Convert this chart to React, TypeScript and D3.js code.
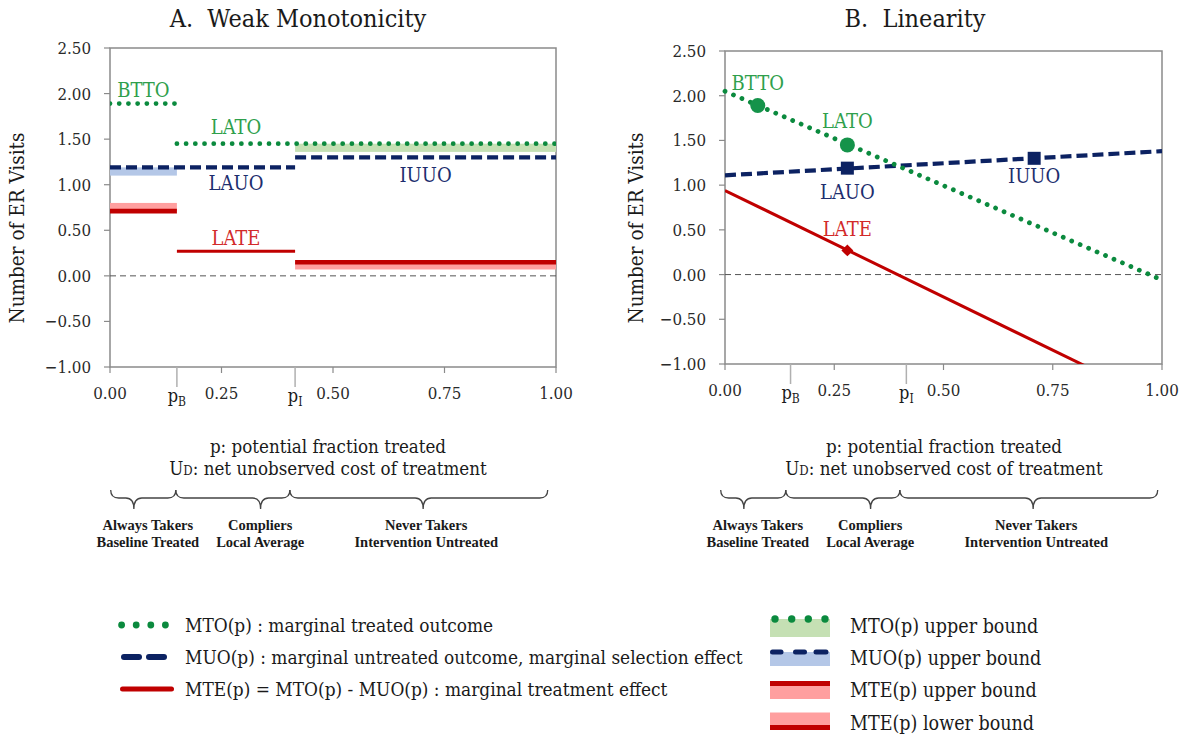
import React, { useEffect, useRef } from 'react';
import * as d3 from 'd3';

const FONT = "'DejaVu Serif Condensed', 'DejaVu Serif', serif";
const FONT_BOLD = "'Liberation Serif', serif";

// ---- data ----
const yTicks = [2.5, 2.0, 1.5, 1.0, 0.5, 0, -0.5, -1.0];
const xTicks = [0, 0.25, 0.5, 0.75, 1];
const pB = 0.15;
const pI = 0.415;
const cutoffs = [pB, pI];
const cutoffSub = ['B', 'I'];

// panel A: step functions (start, end, value)
const mtoAStart = [0, pB];
const mtoAEnd = [pB, 1];
const mtoAVal = [1.89, 1.45];
const muoAStart = [0, pI];
const muoAEnd = [pI, 1];
const muoAVal = [1.19, 1.3];
const mteAStart = [0, pB, pI];
const mteAEnd = [pB, pI, 1];
const mteAVal = [0.71, 0.27, 0.15];

// panel A: bounds (shaded)
const boundKind = ['mto', 'muo', 'mte', 'mte'];
const boundStart = [pI, 0, 0, pI];
const boundEnd = [1, pB, pB, 1];
const boundLow = [1.36, 1.1, 0.71, 0.07];
const boundHigh = [1.45, 1.19, 0.8, 0.15];

// panel B: linear functions
const lineP = [0, 1];
const mtoB = [2.05, -0.06];
const muoB = [1.11, 1.38];
const mteB = [0.94, -1.44];
const circleP = [0.075, 0.28];
const circleY = [1.89, 1.45];
const squareP = [0.28, 0.7075];
const squareY = [1.19, 1.3];
const diamondP = [0.28];
const diamondY = [0.27];

// annotation labels
const labelText = ['BTTO', 'LATO', 'LAUO', 'IUUO', 'LATE'];
const labelKind = ['mto', 'mto', 'muo', 'muo', 'mte'];
const labelP = [0.075, 0.2825, 0.2825, 0.7075, 0.2825];
const labelY = [1.89, 1.45, 1.19, 1.3, 0.27];

const groupTop = ['Always Takers', 'Compliers', 'Never Takers'];
const groupBottom = ['Baseline Treated', 'Local Average', 'Intervention Untreated'];

const legendLeft = [
  'MTO(p) : marginal treated outcome',
  'MUO(p) : marginal untreated outcome, marginal selection effect',
  'MTE(p) = MTO(p) - MUO(p) : marginal treatment effect',
];
const legendRight = ['MTO(p) upper bound', 'MUO(p) upper bound', 'MTE(p) upper bound', 'MTE(p) lower bound'];

// ---- styling ----
const C = {
  green: '#0b8a3e',
  greenText: '#2f9f4c',
  greenBand: '#c5e0b4',
  navy: '#0c2262',
  navyText: '#1d2e6e',
  blueBand: '#b4c7e7',
  red: '#c00000',
  redText: '#d22a2a',
  pink: '#ff9f9f',
  frame: '#8a8a8a',
};
const kindColor: any = { mto: C.green, muo: C.navy, mte: C.red };
const kindText: any = { mto: C.greenText, muo: C.navyText, mte: C.redText };
const bandColor: any = { mto: C.greenBand, muo: C.blueBand, mte: C.pink };

const panels = [
  { key: 'A', title: 'A.  Weak Monotonicity', titleX: 298, left: 110, right: 556, top: 48, bottom: 367, ylabX: 17,
    braceLeft: 110.7, captionX: 328, labelDy: [-14, -16.5, 16, 17.5, -13] },
  { key: 'B', title: 'B.  Linearity', titleX: 915, left: 725, right: 1162, top: 51, bottom: 364, ylabX: 636,
    braceLeft: 720.7, captionX: 944, labelDy: [-22.5, -24, 23.5, 17.5, -21] },
];
const braceW = 437;
const braceJoint = [0, 0.149, 0.41, 1];
const braceTip = [0.053, 0.343, 0.715];
const braceLabel = [0.085, 0.342, 0.722];

function bracePath(a: number, b: number, tip: number, y0: number, y1: number, y2: number) {
  const r = 8;
  return `M${a},${y0} Q${a},${y1} ${a + r},${y1} L${tip - r},${y1} Q${tip},${y1} ${tip},${y2} ` +
    `Q${tip},${y1} ${tip + r},${y1} L${b - r},${y1} Q${b},${y1} ${b},${y0}`;
}

function txt(g: any, size: number) {
  return g.append('text').attr('font-family', FONT).attr('font-size', size).attr('fill', '#1a1a1a');
}

function drawPanel(svg: any, pn: any) {
  const x = d3.scaleLinear().domain([0, 1]).range([pn.left, pn.right]);
  const y = d3.scaleLinear().domain([-1, 2.5]).range([pn.bottom, pn.top]);
  const g = svg.append('g');

  txt(g, 25).attr('x', pn.titleX).attr('y', 27).attr('text-anchor', 'middle')
    .attr('xml:space', 'preserve').style('white-space', 'pre').text(pn.title);

  const clipId = 'clip' + pn.key;
  g.append('clipPath').attr('id', clipId).append('rect')
    .attr('x', pn.left).attr('y', pn.top).attr('width', pn.right - pn.left).attr('height', pn.bottom - pn.top);

  // frame + ticks
  g.append('rect').attr('x', pn.left).attr('y', pn.top).attr('width', pn.right - pn.left)
    .attr('height', pn.bottom - pn.top).attr('fill', 'none').attr('stroke', C.frame).attr('stroke-width', 1.5);
  yTicks.forEach(t => {
    g.append('line').attr('x1', pn.left - 6).attr('x2', pn.left).attr('y1', y(t)).attr('y2', y(t))
      .attr('stroke', C.frame).attr('stroke-width', 1.2);
    txt(g, 16.8).attr('x', pn.left - 19).attr('y', y(t) + 6).attr('text-anchor', 'end')
      .attr('fill', '#2a2a2a').text(d3.format('.2f')(t));
  });
  xTicks.forEach(t => {
    g.append('line').attr('x1', x(t)).attr('x2', x(t)).attr('y1', pn.bottom).attr('y2', pn.bottom + 6)
      .attr('stroke', C.frame).attr('stroke-width', 1.2);
    txt(g, 16.8).attr('x', x(t)).attr('y', pn.bottom + 31.5).attr('text-anchor', 'middle')
      .attr('fill', '#2a2a2a').text(d3.format('.2f')(t));
  });
  cutoffs.forEach((c, i) => {
    g.append('line').attr('x1', x(c)).attr('x2', x(c)).attr('y1', pn.bottom).attr('y2', pn.bottom + 20)
      .attr('stroke', '#b0b0b0').attr('stroke-width', 1.5);
    const t = txt(g, 18).attr('x', x(c)).attr('y', pn.bottom + 35).attr('text-anchor', 'middle');
    t.append('tspan').text('p');
    t.append('tspan').attr('dy', 4).attr('font-size', 12).text(cutoffSub[i]);
  });

  // zero line
  g.append('line').attr('x1', pn.left).attr('x2', pn.right).attr('y1', y(0)).attr('y2', y(0))
    .attr('stroke', '#555').attr('stroke-width', 1).attr('stroke-dasharray', '6 4');

  // axis label
  txt(g, 20.5).attr('transform', `translate(${pn.ylabX},228) rotate(-90)`).attr('text-anchor', 'middle')
    .attr('dominant-baseline', 'central').text('Number of ER Visits');

  const plot = g.append('g').attr('clip-path', `url(#${clipId})`);
  const line = d3.line<any>().x(d => x(d[0])).y(d => y(d[1]));

  const styleKind = (sel: any, kind: string, w: number) => {
    sel.attr('fill', 'none').attr('stroke', kindColor[kind]);
    if (kind === 'mto') sel.attr('stroke-width', 4.8).attr('stroke-linecap', 'round').attr('stroke-dasharray', '0.01 9.2');
    else if (kind === 'muo') sel.attr('stroke-width', 4.2).attr('stroke-dasharray', '11 5');
    else sel.attr('stroke-width', w);
  };

  if (pn.key === 'A') {
    boundKind.forEach((k, i) => {
      plot.append('rect').attr('x', x(boundStart[i])).attr('width', x(boundEnd[i]) - x(boundStart[i]))
        .attr('y', y(boundHigh[i])).attr('height', y(boundLow[i]) - y(boundHigh[i])).attr('fill', bandColor[k]);
    });
    mteAVal.forEach((v, i) => {
      plot.append('path').attr('d', line([[mteAStart[i], v], [mteAEnd[i], v]]))
        .call(styleKind, 'mte', i === 1 ? 3 : 4.6);
    });
    muoAVal.forEach((v, i) => {
      plot.append('path').attr('d', line([[muoAStart[i], v], [muoAEnd[i], v]])).call(styleKind, 'muo', 4);
    });
    mtoAVal.forEach((v, i) => {
      plot.append('path').attr('d', line([[mtoAStart[i], v], [mtoAEnd[i], v]])).call(styleKind, 'mto', 4);
    });
  } else {
    plot.append('path').attr('d', line(lineP.map((p, i) => [p, mteB[i]]))).call(styleKind, 'mte', 3);
    plot.append('path').attr('d', line(lineP.map((p, i) => [p, muoB[i]]))).call(styleKind, 'muo', 4);
    g.append('path').attr('d', line(lineP.map((p, i) => [p, mtoB[i]]))).call(styleKind, 'mto', 4);
    circleP.forEach((p, i) => {
      g.append('circle').attr('cx', x(p)).attr('cy', y(circleY[i])).attr('r', 7.5).attr('fill', '#15934a');
    });
    squareP.forEach((p, i) => {
      g.append('rect').attr('x', x(p) - 6.5).attr('y', y(squareY[i]) - 6.5).attr('width', 13).attr('height', 13)
        .attr('fill', C.navy);
    });
    diamondP.forEach((p, i) => {
      g.append('path').attr('d', d3.symbol(d3.symbolDiamond2, 90)())
        .attr('transform', `translate(${x(p)},${y(diamondY[i])})`).attr('fill', C.red);
    });
  }

  labelText.forEach((t, i) => {
    const p = pn.key === 'B' ? (i === 0 ? circleP[0] : i === 3 ? squareP[1] : squareP[0]) : labelP[i];
    txt(g, 20).attr('x', x(p)).attr('y', y(labelY[i]) + pn.labelDy[i] + 7).attr('text-anchor', 'middle')
      .attr('fill', kindText[labelKind[i]]).text(t);
  });

  // captions
  txt(g, 18.6).attr('x', pn.captionX).attr('y', 453).attr('text-anchor', 'middle').text('p: potential fraction treated');
  const cap = txt(g, 18.6).attr('x', pn.captionX).attr('y', 475).attr('text-anchor', 'middle');
  cap.append('tspan').text('U');
  cap.append('tspan').attr('font-size', 13).text('D');
  cap.append('tspan').text(': net unobserved cost of treatment');

  // braces
  const bx = d3.scaleLinear().domain([0, 1]).range([pn.braceLeft, pn.braceLeft + braceW]);
  braceTip.forEach((tp, i) => {
    g.append('path').attr('d', bracePath(bx(braceJoint[i]), bx(braceJoint[i + 1]), bx(tp), 490, 498, 509))
      .attr('fill', 'none').attr('stroke', '#444').attr('stroke-width', 1.3);
    txt(g, 14.5).attr('font-family', FONT_BOLD).attr('x', bx(braceLabel[i])).attr('y', 530).attr('text-anchor', 'middle')
      .attr('font-weight', 'bold').text(groupTop[i]);
    txt(g, 14.5).attr('font-family', FONT_BOLD).attr('x', bx(braceLabel[i])).attr('y', 546.5).attr('text-anchor', 'middle')
      .attr('font-weight', 'bold').text(groupBottom[i]);
  });
}

function drawLegend(svg: any) {
  const g = svg.append('g');
  const rowL = [625, 657, 689];
  [0, 1, 2, 3].forEach(i => g.append('circle').attr('cx', 121.6 + i * 14.6).attr('cy', rowL[0]).attr('r', 3.4).attr('fill', C.green));
  [[124, 139], [149, 164]].forEach(s => g.append('line').attr('x1', s[0]).attr('x2', s[1]).attr('y1', rowL[1]).attr('y2', rowL[1])
    .attr('stroke', C.navy).attr('stroke-width', 6).attr('stroke-linecap', 'round'));
  g.append('line').attr('x1', 122.5).attr('x2', 171.5).attr('y1', rowL[2]).attr('y2', rowL[2])
    .attr('stroke', C.red).attr('stroke-width', 5).attr('stroke-linecap', 'round');
  legendLeft.forEach((t, i) => txt(g, 18.9).attr('x', 185).attr('y', rowL[i] + 7).text(t));

  const rowR = [626, 658, 690, 722.5];
  g.append('rect').attr('x', 770).attr('y', 619).attr('width', 60).attr('height', 18).attr('fill', C.greenBand);
  [775, 791.7, 808.3, 825].forEach(cx => g.append('circle').attr('cx', cx).attr('cy', 619).attr('r', 3.7).attr('fill', C.green));
  g.append('rect').attr('x', 770).attr('y', 652).attr('width', 60).attr('height', 14).attr('fill', C.blueBand);
  [[772.5, 781], [795.5, 804.5], [816, 826]].forEach(s => g.append('line').attr('x1', s[0]).attr('x2', s[1]).attr('y1', 652).attr('y2', 652)
    .attr('stroke', C.navy).attr('stroke-width', 5).attr('stroke-linecap', 'round'));
  g.append('rect').attr('x', 770).attr('y', 681).attr('width', 60).attr('height', 18).attr('fill', C.pink);
  g.append('rect').attr('x', 770).attr('y', 681).attr('width', 60).attr('height', 5).attr('fill', C.red);
  g.append('rect').attr('x', 770).attr('y', 712.5).attr('width', 60).attr('height', 17.5).attr('fill', C.pink);
  g.append('rect').attr('x', 770).attr('y', 725).attr('width', 60).attr('height', 5).attr('fill', C.red);
  legendRight.forEach((t, i) => txt(g, 19.5).attr('x', 850).attr('y', rowR[i] + 7).text(t));
}

export default function App() {
  const ref = useRef<SVGSVGElement>(null);
  useEffect(() => {
    const svg = d3.select(ref.current);
    svg.selectAll('*').remove();
    svg.append('rect').attr('width', 1190).attr('height', 735).attr('fill', '#fff');
    panels.forEach(pn => drawPanel(svg, pn));
    drawLegend(svg);
  }, []);
  return (
    <svg ref={ref} width={1190} height={735} style={{ position: 'absolute', left: 0, top: 0, background: '#fff' }} />
  );
}
